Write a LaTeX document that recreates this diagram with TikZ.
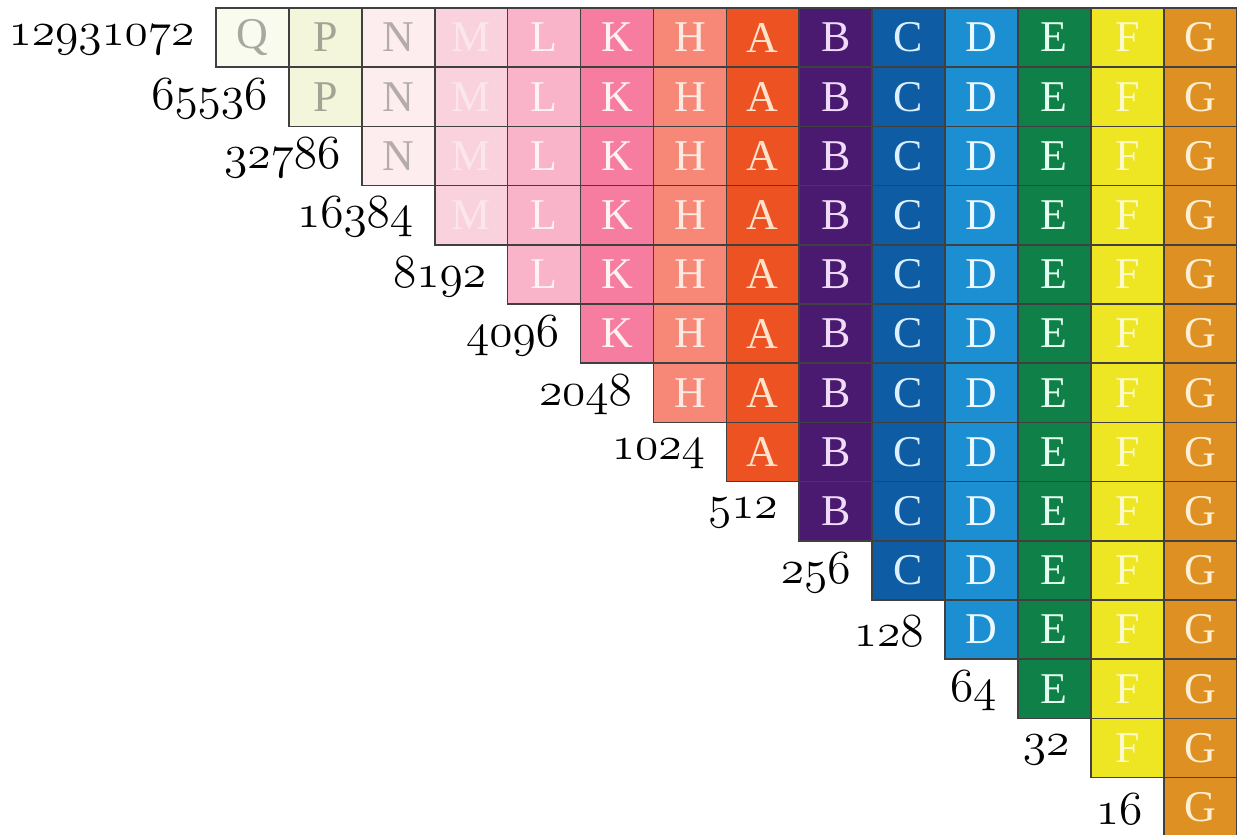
\RequirePackage{fix-cm}
\documentclass[tikz,border=0pt]{standalone}
\usepackage{fontspec}
\usepackage{xcolor}
\usepackage{tikz}
\usetikzlibrary{positioning}
\newfontfamily\cellfont{Liberation Serif}
% old-style figures from the math italic font
\newcommand{\osnum}[1]{{\fontencoding{OML}\fontfamily{cmm}\fontseries{m}\fontshape{it}\selectfont #1}}

\definecolor{qfill}{HTML}{FAFBEF}\definecolor{qtext}{HTML}{A8A8A0}
\definecolor{pfill}{HTML}{F3F6DB}\definecolor{ptext}{HTML}{A4A494}
\definecolor{nfill}{HTML}{FDEDEE}\definecolor{ntext}{HTML}{B4ACAC}
\definecolor{mfill}{HTML}{FAD2DE}\definecolor{mtext}{HTML}{FBE6EC}
\definecolor{lfill}{HTML}{F9B4C9}\definecolor{ltext}{HTML}{FFF2F5}
\definecolor{kfill}{HTML}{F67CA0}\definecolor{ktext}{HTML}{FFF2F4}
\definecolor{hfill}{HTML}{F78878}\definecolor{htext}{HTML}{FFEAE2}
\definecolor{afill}{HTML}{EC5222}\definecolor{atext}{HTML}{FFE2CC}
\definecolor{bfill}{HTML}{4A1A70}\definecolor{btext}{HTML}{F0DCF8}
\definecolor{cfill}{HTML}{0D5CA4}\definecolor{ctext}{HTML}{DCF0FF}
\definecolor{dfill}{HTML}{1C8ED2}\definecolor{dtext}{HTML}{ECF8FF}
\definecolor{efill}{HTML}{0F8048}\definecolor{etext}{HTML}{E2FFF0}
\definecolor{ffill}{HTML}{EEE622}\definecolor{ftext}{HTML}{FCFAC8}
\definecolor{gfill}{HTML}{DF9022}\definecolor{gtext}{HTML}{FFF0D4}

\begin{document}
\begin{tikzpicture}[
    cell/.style={draw=black!75, line width=0.45pt, rectangle, inner sep=0pt,
        minimum width=0.729cm, minimum height=0.592cm,
        font=\cellfont\fontsize{12.5}{14}\selectfont},
    count/.style={inner sep=0pt, font=\fontsize{13.5}{15}\selectfont}
]
    \useasboundingbox (0,0) rectangle (12.38,8.35);
    % one column per letter, rows run down to the diagonal
    \foreach \l/\c [count=\i from 0] in {Q/q, P/p, N/n, M/m, L/l, K/k, H/h, A/a, B/b, C/c, D/d, E/e, F/f, G/g} {
        \foreach \j in {0,...,\i} {
            \node[cell, fill=\c fill, text=\c text] (c\j-\i)
                at ({2.525+0.729*\i},{7.974-0.592*\j}) {\l};
        }
    }
    % row counts
    \foreach \n [count=\j from 0] in {12931072, 65536, 32786, 16384, 8192, 4096, 2048, 1024, 512, 256, 128, 64, 32, 16} {
        \node[count, left=0.2cm of c\j-\j, yshift=-0.02cm] (n\j) {\osnum{\n}};
    }
\end{tikzpicture}
\end{document}
